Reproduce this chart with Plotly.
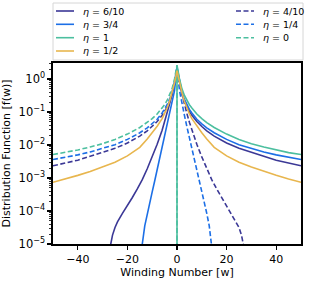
import plotly.graph_objects as go

# ---- data: winding number w and log10 of distribution f(w) ----
# eta = 6/10 (solid)
w_eta06 = [-27.5, -27, -26, -25, -24, -22, -20, -18, -16, -14, -12, -10, -8, -6, -5, -4, -3, -2, -1,
           0, 1, 2, 3, 4, 5, 6, 8, 10, 12, 15, 20, 25, 30, 35, 40, 45, 50]
lf_eta06 = [-5.3, -5.08, -4.73, -4.5, -4.33, -4.07, -3.85, -3.59, -3.33, -3.05, -2.72, -2.36, -1.98, -1.55, -1.31, -1.05, -0.76, -0.48, -0.15,
            0.30, -0.14, -0.46, -0.68, -0.85, -0.99, -1.10, -1.29, -1.44, -1.57, -1.73, -1.94, -2.10, -2.23, -2.34, -2.46, -2.55, -2.63]
# eta = 4/10 (dashed)
w_eta04 = [-50, -45, -40, -35, -30, -25, -20, -15, -12, -10, -8, -6, -5, -4, -3, -2, -1,
           0, 1, 2, 3, 4, 5, 6, 8, 10, 12, 14, 16, 18, 20, 22, 24, 25, 26, 27, 27.5]
lf_eta04 = [-2.63, -2.55, -2.46, -2.34, -2.23, -2.10, -1.94, -1.73, -1.57, -1.44, -1.29, -1.10, -0.99, -0.85, -0.68, -0.46, -0.14,
            0.30, -0.15, -0.48, -0.76, -1.05, -1.31, -1.55, -1.98, -2.36, -2.72, -3.05, -3.33, -3.59, -3.85, -4.07, -4.33, -4.5, -4.73, -5.08, -5.3]
# eta = 3/4 (solid)
w_eta34 = [-14.5, -14, -13, -12, -11, -10, -9, -8, -7, -6, -5, -4, -3, -2, -1,
           0, 1, 2, 3, 4, 5, 6, 8, 10, 12, 15, 20, 25, 30, 35, 40, 45, 50]
lf_eta34 = [-5.4, -5.0, -4.45, -4.07, -3.75, -3.42, -3.09, -2.75, -2.40, -2.08, -1.77, -1.45, -1.10, -0.78, -0.35,
            0.36, -0.08, -0.40, -0.62, -0.78, -0.92, -1.03, -1.22, -1.36, -1.48, -1.63, -1.83, -1.99, -2.11, -2.21, -2.30, -2.38, -2.44]
# eta = 1/4 (dashed)
w_eta14 = [-50, -45, -40, -35, -30, -25, -20, -15, -12, -10, -8, -6, -5, -4, -3, -2, -1,
           0, 1, 2, 3, 4, 5, 6, 7, 8, 9, 10, 11, 12, 13, 14, 14.5]
lf_eta14 = [-2.44, -2.38, -2.30, -2.21, -2.11, -1.99, -1.83, -1.63, -1.48, -1.36, -1.22, -1.03, -0.92, -0.78, -0.62, -0.40, -0.08,
            0.36, -0.35, -0.78, -1.10, -1.45, -1.77, -2.08, -2.40, -2.75, -3.09, -3.42, -3.75, -4.07, -4.45, -5.0, -5.4]
# eta = 1 (solid)
w_eta1 = [0, 0, 1, 2, 3, 4, 5, 6, 8, 10, 12, 15, 20, 25, 30, 35, 40, 45, 50]
lf_eta1 = [-9.0, 0.42, 0.0, -0.30, -0.50, -0.65, -0.78, -0.88, -1.06, -1.20, -1.32, -1.47, -1.67, -1.83, -1.96, -2.06, -2.15, -2.23, -2.29]
# eta = 0 (dashed)
w_eta0 = [-50, -45, -40, -35, -30, -25, -20, -15, -12, -10, -8, -6, -5, -4, -3, -2, -1, 0, 0]
lf_eta0 = [-2.29, -2.23, -2.15, -2.06, -1.96, -1.83, -1.67, -1.47, -1.32, -1.20, -1.06, -0.88, -0.78, -0.65, -0.50, -0.30, 0.0, 0.42, -9.0]
# eta = 1/2 (solid)
w_eta12 = [-50, -45, -40, -35, -30, -25, -20, -15, -12, -10, -8, -6, -5, -4, -3, -2, -1,
           0, 1, 2, 3, 4, 5, 6, 8, 10, 12, 15, 20, 25, 30, 35, 40, 45, 50]
lf_eta12 = [-3.13, -3.03, -2.92, -2.80, -2.67, -2.52, -2.33, -2.07, -1.82, -1.63, -1.43, -1.20, -1.06, -0.88, -0.68, -0.42, -0.12,
            0.25, -0.12, -0.42, -0.68, -0.88, -1.06, -1.20, -1.43, -1.63, -1.82, -2.07, -2.33, -2.52, -2.67, -2.80, -2.92, -3.03, -3.13]

y_tick_exp = [0, -1, -2, -3, -4, -5]
y_tick_text = ["10<sup>0</sup>", "10<sup>−1</sup>", "10<sup>−2</sup>", "10<sup>−3</sup>",
               "10<sup>−4</sup>", "10<sup>−5</sup>"]
x_tick_vals = [-40, -20, 0, 20, 40]
x_tick_text = ["−40", "−20", "0", "20", "40"]

PURPLE = "#3b3896"
BLUE = "#1c6fe6"
TEAL = "#4cbf9f"
GOLD = "#e8b64e"
DASH = "5px,2.5px"

series = [
    ("<i>η</i> = 6/10", w_eta06, lf_eta06, PURPLE, "solid"),
    ("<i>η</i> = 4/10", w_eta04, lf_eta04, PURPLE, "dash"),
    ("<i>η</i> = 3/4", w_eta34, lf_eta34, BLUE, "solid"),
    ("<i>η</i> = 1/4", w_eta14, lf_eta14, BLUE, "dash"),
    ("<i>η</i> = 1", w_eta1, lf_eta1, TEAL, "solid"),
    ("<i>η</i> = 0", w_eta0, lf_eta0, TEAL, "dash"),
    ("<i>η</i> = 1/2", w_eta12, lf_eta12, GOLD, "solid"),
]

W, H = 313, 283
ML, MR, MT, MB = 53, 12, 63, 39
PW, PH = W - ML - MR, H - MT - MB


def px_to_paper(px, py):
    return (px - ML) / PW, (H - MB - py) / PH


fig = go.Figure()
for name, w, lf, col, dash in series:
    fig.add_trace(go.Scatter(
        x=w, y=[10 ** v for v in lf], mode="lines", name=name, showlegend=False,
        line=dict(color=col, width=1.6, dash=DASH if dash == "dash" else "solid"),
    ))

# ---- legend drawn as a two-column box above the plot ----
shapes = []
annotations = []
bx0, by0 = px_to_paper(53, 3)
bx1, by1 = px_to_paper(303, 60)
shapes.append(dict(type="rect", xref="paper", yref="paper", x0=bx0, y0=by1, x1=bx1, y1=by0,
                   line=dict(color="#d6d6d6", width=1), fillcolor="rgba(255,255,255,0.8)", layer="above"))
row_y = [11, 24.3, 37.7, 51]
col_x = [56, 236]
for i, (name, w, lf, col, dash) in enumerate(series):
    r, c = i // 2, i % 2
    lx0, ly = px_to_paper(col_x[c], row_y[r])
    lx1, _ = px_to_paper(col_x[c] + 18, row_y[r])
    tx, _ = px_to_paper(col_x[c] + 25, row_y[r])
    shapes.append(dict(type="line", xref="paper", yref="paper", x0=lx0, x1=lx1, y0=ly, y1=ly,
                       line=dict(color=col, width=1.6, dash=DASH if dash == "dash" else "solid"),
                       layer="above"))
    annotations.append(dict(text=name, xref="paper", yref="paper", x=tx, y=ly,
                            xanchor="left", yanchor="middle", showarrow=False,
                            font=dict(family="DejaVu Sans", size=9.5, color="black")))

FONT = "DejaVu Sans"
fig.update_layout(
    width=W, height=H,
    margin=dict(l=ML, r=MR, t=MT, b=MB, autoexpand=False),
    paper_bgcolor="white", plot_bgcolor="white",
    font=dict(family=FONT, size=11, color="black"),
    showlegend=False,
    shapes=shapes,
    annotations=annotations,
    xaxis=dict(
        range=[-50, 50], tickvals=x_tick_vals, ticktext=x_tick_text,
        ticks="outside", ticklen=4, tickwidth=1.2, tickcolor="black",
        showline=True, linecolor="black", linewidth=1.6, mirror=True,
        showgrid=False, zeroline=False, automargin=False,
        title=dict(text="Winding Number [w]", font=dict(size=11), standoff=0),
        tickfont=dict(size=11),
    ),
    yaxis=dict(
        type="log", range=[-5, 0.485],
        tickvals=[10 ** e for e in y_tick_exp], ticktext=y_tick_text,
        ticks="outside", ticklen=4, tickwidth=1.2, tickcolor="black",
        minor=dict(ticks="outside", ticklen=2, tickwidth=0.8, tickcolor="black", dtick="D1", showgrid=False),
        showline=True, linecolor="black", linewidth=1.6, mirror=True,
        showgrid=False, zeroline=False, automargin=False,
        title=dict(text="Distribution Function [f(w)]", font=dict(size=11), standoff=12),
        tickfont=dict(size=11.5),
    ),
)

fig.write_html("out.html",
               config={"displayModeBar": False, "staticPlot": True},
               post_script="document.body.style.margin='0';document.body.style.overflow='hidden';")
